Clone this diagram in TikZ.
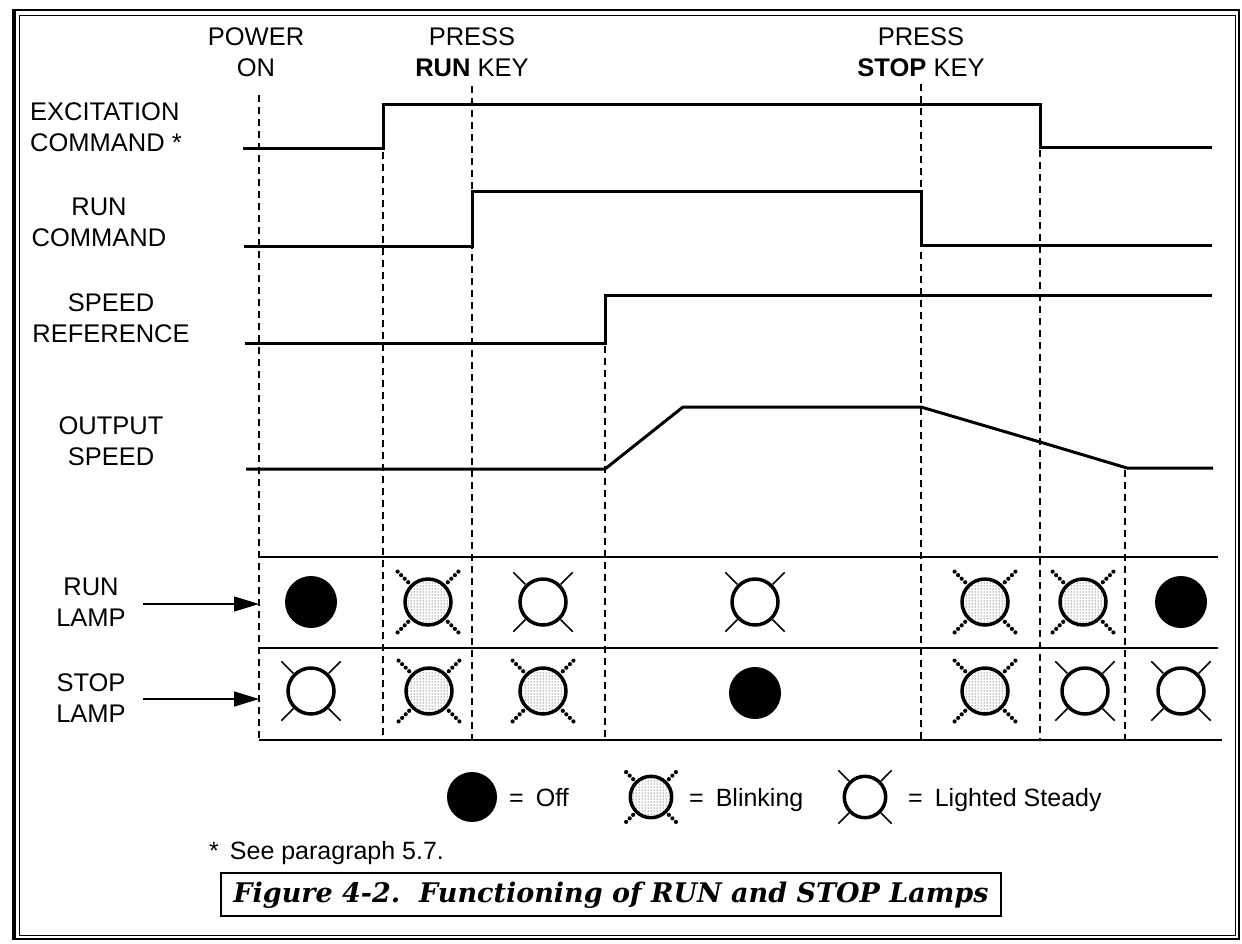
\documentclass[tikz,border=0pt]{standalone}
\usepackage{fontspec}
\setmainfont{Liberation Sans}
\newfontfamily\titlefont{DejaVu Serif}
\usetikzlibrary{arrows.meta,patterns}
\tikzset{
  lbl/.style={font=\fontsize{25.5}{31}\selectfont, align=center, inner sep=0pt},
  leg/.style={font=\fontsize{25}{30}\selectfont, inner sep=0pt, anchor=base west},
  sig/.style={line width=3pt},
  guide/.style={line width=1.2pt, dash pattern=on 7pt off 5pt},
  rowline/.style={line width=1.6pt},
  pointer/.style={line width=1.5pt, -{Triangle[length=25pt,width=15pt]}},
  pics/lampoff/.style={code={\fill (0,0) circle[radius=26pt];}},
  pics/lampsteady/.style={code={
     \draw[line width=3.5pt, fill=white] (0,0) circle[radius=23pt];
     \foreach \a in {45,135,225,315} \draw[line width=1.5pt] (\a:25pt) -- (\a:42pt);
  }},
  pics/lampblink/.style={code={
     \draw[line width=3.5pt, fill=white] (0,0) circle[radius=23pt];
     \fill[pattern=dots, pattern color=black] (0,0) circle[radius=21pt];
     \foreach \a in {45,135,225,315} \draw[line width=4.2pt, line cap=round, dash pattern=on 0pt off 5pt] (\a:28pt) -- (\a:43pt);
  }},
}
\begin{document}
\begin{tikzpicture}[x=1pt,y=-1pt]
\useasboundingbox (0,0) rectangle (1242,943);
% frame
\draw[line width=2.5pt] (13,10) rectangle (1239,939);
\draw[line width=4pt] (14,10) -- (14,939);
\draw[line width=1pt] (19,15) rectangle (1235,935);

% top labels
\node[lbl] (poweron) at (256,52.5) {POWER\\ON};
\node[lbl] (pressrun) at (472,52.5) {PRESS\\\textbf{RUN} KEY};
\node[lbl] (pressstop) at (921,52.5) {PRESS\\\textbf{STOP} KEY};

% signal labels
\node[lbl, align=left, anchor=west] (exclbl) at (30,127) {EXCITATION\\COMMAND *};
\node[lbl] (runlbl) at (99,222) {RUN\\COMMAND};
\node[lbl] (spdreflbl) at (111,318) {SPEED\\REFERENCE};
\node[lbl] (outlbl) at (111,441) {OUTPUT\\SPEED};
\node[lbl] (runlamplbl) at (91,602.5) {RUN\\LAMP};
\node[lbl] (stoplamplbl) at (91,698) {STOP\\LAMP};

% guide lines
\coordinate (g1t) at (259,95);   \coordinate (g1b) at (259,740);
\coordinate (g2t) at (383,152);  \coordinate (g2b) at (383,740);
\coordinate (g3t) at (472,86);   \coordinate (g3b) at (472,740);
\coordinate (g4t) at (605,346);  \coordinate (g4b) at (605,740);
\coordinate (g5t) at (921,84);   \coordinate (g5b) at (921,740);
\coordinate (g6t) at (1040,150); \coordinate (g6b) at (1040,740);
\coordinate (g7t) at (1125,470); \coordinate (g7b) at (1125,740);
\foreach \g in {1,...,7} \draw[guide] (g\g t) -- (g\g b);

% signals
\draw[sig] (243,148) -- (383,148) -- (383,104) -- (1040,104) -- (1040,147) -- (1212,147);
\draw[sig] (244,246) -- (472,246) -- (472,191) -- (921,191) -- (921,245) -- (1212,245);
\draw[sig] (245,343) -- (605,343) -- (605,295) -- (1212,295);
\draw[sig, line join=round] (246,469) -- (605,469) -- (683,407) -- (921,407) -- (1040,442) -- (1127,468) -- (1213,468);

% lamp table
\draw[rowline] (259,557) -- (1218,557);
\draw[rowline] (259,648) -- (1218,648);
\draw[rowline] (259,740) -- (1222,740);

% arrows
\coordinate (runarr) at (143,604);
\coordinate (runtab) at (259,604);
\coordinate (stoparr) at (143,699);
\coordinate (stoptab) at (259,699);
\draw[pointer] (runarr) -- (runtab);
\draw[pointer] (stoparr) -- (stoptab);

% RUN lamp row
\pic at (311,602) {lampoff};
\pic at (428,602) {lampblink};
\pic at (543,602) {lampsteady};
\pic at (755,602) {lampsteady};
\pic at (985,602) {lampblink};
\pic at (1083,602) {lampblink};
\pic at (1181,602) {lampoff};
% STOP lamp row
\pic at (311,691) {lampsteady};
\pic at (429,691) {lampblink};
\pic at (543,691) {lampblink};
\pic at (755,693) {lampoff};
\pic at (985,691) {lampblink};
\pic at (1085,691) {lampsteady};
\pic at (1181,691) {lampsteady};

% legend
\fill (472,797) circle[radius=25pt];
\node[leg] (legoff) at (509,806) {=\hspace{12pt}Off};
\pic[scale=0.9] at (651,797) {lampblink};
\node[leg] (legblink) at (689,806) {=\hspace{12pt}Blinking};
\pic[scale=0.9] at (865,797) {lampsteady};
\node[leg] (legsteady) at (908,806) {=\hspace{12pt}Lighted Steady};

% footnote
\node[leg] (foot) at (209,859) {*\hspace{11pt}See paragraph 5.7.};

% title
\draw[line width=1.5pt] (221,873) rectangle (1001,916);
\node[inner sep=0pt, font=\titlefont\fontsize{27}{30}\selectfont\bfseries\itshape] (title) at (611,895) {Figure 4-2.\ \ Functioning of RUN and STOP Lamps};
\end{tikzpicture}
\end{document}
